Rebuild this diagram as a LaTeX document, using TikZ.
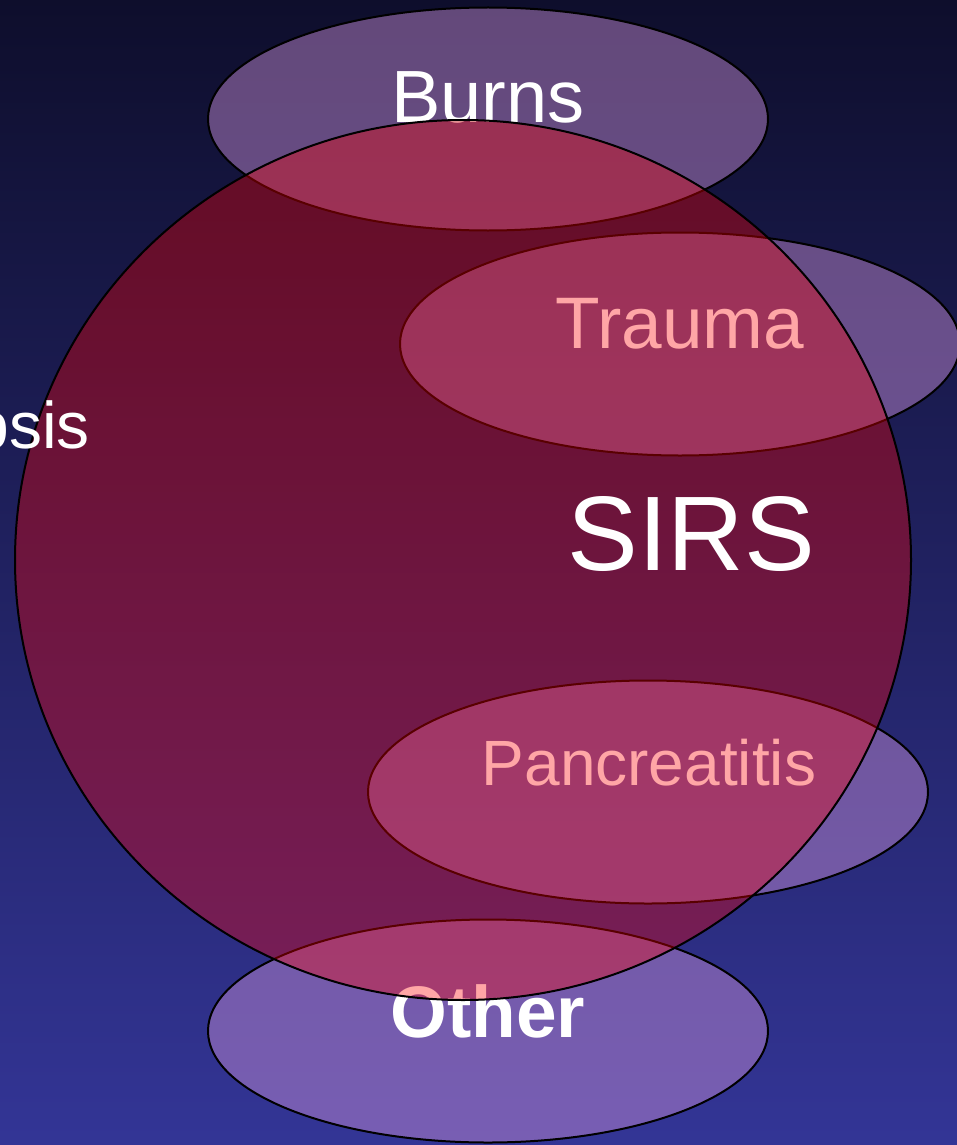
\documentclass[tikz,border=0pt]{standalone}
\usepackage{fontspec}
\setmainfont{Liberation Sans}
\usetikzlibrary{shapes.geometric}
\definecolor{bgtop}{RGB}{14,14,44}
\definecolor{bgbot}{RGB}{51,53,150}
\definecolor{ellfill}{RGB}{204,145,217}
\tikzset{
  smallell/.style={ellipse, draw=black, line width=2pt, fill=ellfill, fill opacity=0.45, draw opacity=1, inner sep=0pt, minimum width=560pt, minimum height=223pt},
  bigcirc/.style={ellipse, draw=black, line width=2pt, fill=red, fill opacity=0.35, draw opacity=1, inner sep=0pt, minimum width=896pt, minimum height=880pt},
  lbl/.style={text=white, anchor=base, inner sep=0pt}
}
\begin{document}
\begin{tikzpicture}[x=1pt,y=-1pt]
\useasboundingbox (0,0) rectangle (957,1145);
\shade[top color=bgtop, bottom color=bgbot] (0,0) rectangle (957,1145);
\node[smallell] (burns) at (488,119) {};
\node[smallell] (trauma) at (680,344) {};
\node[smallell] (panc) at (648,792) {};
\node[smallell] (other) at (488,1031) {};
\node[lbl, font=\fontsize{74}{80}\selectfont] (burnst) at (488,123) {Burns};
\node[lbl, font=\fontsize{73}{80}\selectfont] (traumat) at (680,348) {Trauma};
\node[lbl, font=\fontsize{64}{70}\selectfont] (panct) at (649,785) {Pancreatitis};
\node[lbl, font=\bfseries\fontsize{73}{80}\selectfont] (othert) at (488,1037) {Other};
\node[bigcirc] (sirs) at (463,560) {};
\node[lbl, font=\fontsize{106}{110}\selectfont] (sirst) at (691,570) {SIRS};
\node[text=white, anchor=base east, inner sep=0pt, font=\fontsize{66}{70}\selectfont] (sepsis) at (90,448) {Sepsis};
\end{tikzpicture}
\end{document}
